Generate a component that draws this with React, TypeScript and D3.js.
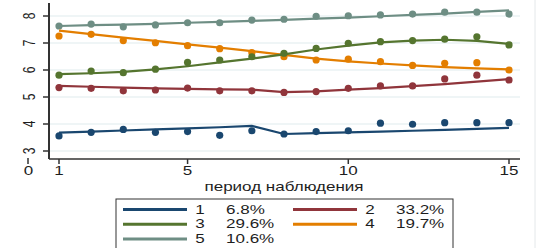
import React from 'react';
import * as d3 from 'd3';

// периоды наблюдения
const periods = d3.range(1, 16);

// наблюдаемые средние (точки)
const obs1 = [3.56, 3.69, 3.8, 3.69, 3.72, 3.58, 3.75, 3.63, 3.72, 3.75, 4.03, 3.99, 4.05, 4.05, 4.05];
const obs2 = [5.35, 5.32, 5.23, 5.26, 5.33, 5.23, 5.23, 5.17, 5.2, 5.32, 5.41, 5.41, 5.67, 5.81, 5.63];
const obs3 = [5.81, 5.96, 5.9, 6.03, 6.28, 6.37, 6.49, 6.62, 6.8, 6.99, 7.05, 7.09, 7.14, 7.23, 6.93];
const obs4 = [7.26, 7.32, 7.09, 7.01, 6.9, 6.79, 6.64, 6.49, 6.37, 6.4, 6.31, 6.17, 6.25, 6.27, 6.0];
const obs5 = [7.63, 7.7, 7.6, 7.67, 7.75, 7.75, 7.85, 7.88, 7.99, 8.01, 8.04, 8.07, 8.14, 8.14, 8.07];

// предсказанные траектории (линии)
const fit1 = [3.68, 3.72, 3.76, 3.8, 3.84, 3.88, 3.93, 3.63, 3.66, 3.69, 3.72, 3.75, 3.78, 3.82, 3.86];
const fit2 = [5.41, 5.38, 5.35, 5.32, 5.3, 5.28, 5.27, 5.18, 5.21, 5.27, 5.33, 5.4, 5.48, 5.57, 5.66];
const fit3 = [5.85, 5.88, 5.93, 6.02, 6.14, 6.28, 6.42, 6.58, 6.76, 6.9, 7.02, 7.09, 7.12, 7.08, 6.97];
const fit4 = [7.46, 7.33, 7.2, 7.08, 6.95, 6.83, 6.7, 6.56, 6.42, 6.32, 6.24, 6.17, 6.11, 6.06, 6.02];
const fit5 = [7.63, 7.66, 7.68, 7.71, 7.75, 7.78, 7.82, 7.86, 7.9, 7.94, 7.99, 8.04, 8.09, 8.15, 8.21];

const groupNames = ['1', '2', '3', '4', '5'];
const groupShares = ['6.8%', '33.2%', '29.6%', '19.7%', '10.6%'];
const colors = ['#1a476f', '#90353b', '#55752f', '#e37e00', '#6e8e84'];

const yTicks = [3, 4, 5, 6, 7, 8];
const xTicks = [1, 5, 10, 15];

const font = 'Liberation Sans, Arial, sans-serif';
const SX = 1.42; // картинка растянута по горизонтали

// растянутый по горизонтали текст
const T = ({ x, y, children, anchor = 'middle', rotate = 0, baseline }: any) => (
  <text
    transform={`translate(${x},${y}) scale(${SX},1) rotate(${rotate})`}
    textAnchor={anchor} dominantBaseline={baseline}
    fontFamily={font} fontSize={12} fill="#1e1e1e"
  >{children}</text>
);

const App = () => {
  const width = 553;
  const height = 248;

  const x = d3.scaleLinear().domain([1, 15]).range([59, 509]);
  const y = d3.scaleLinear().domain([3, 8]).range([151, 16]);
  const axisY = 159;
  const axisX = 49;

  const obs = [obs1, obs2, obs3, obs4, obs5];
  const fits = [fit1, fit2, fit3, fit4, fit5];

  const line = d3.line<number>()
    .x((_, i) => x(periods[i]))
    .y(d => y(d));

  const order = [4, 3, 2, 1, 0];

  // легенда
  const legX = 116, legY = 199;
  const rowH = 14.8;
  const legendItems = groupNames.map((g, i) => ({
    g, share: groupShares[i], color: colors[i],
    col: i % 2, row: Math.floor(i / 2),
  }));

  return (
    <svg width={width} height={height} style={{ position: 'absolute', left: 0, top: 0, background: '#fff' }}>
      {/* сетка */}
      {yTicks.map(t => (
        <line key={t} x1={axisX} x2={520} y1={y(t)} y2={y(t)} stroke="#eaf2f3" strokeWidth={1.5} />
      ))}
      <line x1={535} x2={535} y1={0} y2={height} stroke="#e4e8ea" strokeWidth={1} />

      {/* оси */}
      <line x1={axisX} x2={axisX} y1={3} y2={axisY} stroke="#333" strokeWidth={2} />
      <line x1={axisX} x2={520} y1={axisY} y2={axisY} stroke="#333" strokeWidth={1.5} />
      {yTicks.map(t => (
        <g key={t}>
          <line x1={43} x2={axisX} y1={y(t)} y2={y(t)} stroke="#333" strokeWidth={1.5} />
          <T x={29} y={y(t)} rotate={-90} baseline="central">{t}</T>
        </g>
      ))}
      <line x1={28} x2={28} y1={158} y2={164} stroke="#333" strokeWidth={1.5} />
      <T x={28.5} y={175}>0</T>
      {xTicks.map(t => (
        <g key={t}>
          <line x1={x(t)} x2={x(t)} y1={axisY} y2={axisY + 5} stroke="#333" strokeWidth={1.5} />
          <T x={x(t)} y={175}>{t}</T>
        </g>
      ))}
      <T x={284} y={190.5}>период наблюдения</T>

      {/* точки и линии */}
      {order.map(k => (
        <g key={k}>
          {obs[k].map((v, i) => (
            <circle key={i} cx={x(periods[i])} cy={y(v)} r={3.6} fill={colors[k]} />
          ))}
          <path d={line(fits[k]) || ''} fill="none" stroke={colors[k]} strokeWidth={2.2} />
        </g>
      ))}

      {/* легенда */}
      <rect x={legX} y={legY} width={337} height={60} fill="#fff" stroke="#333" strokeWidth={1} />
      {legendItems.map(it => {
        const ox = legX + it.col * 170;
        const cy = legY + 10.5 + it.row * rowH;
        return (
          <g key={it.g}>
            <line x1={ox + 7} x2={ox + 71} y1={cy} y2={cy} stroke={it.color} strokeWidth={3} />
            <T x={ox + 84} y={cy} baseline="central">{it.g}</T>
            <T x={ox + 110} y={cy} anchor="start" baseline="central">{it.share}</T>
          </g>
        );
      })}
    </svg>
  );
};

export default App;
